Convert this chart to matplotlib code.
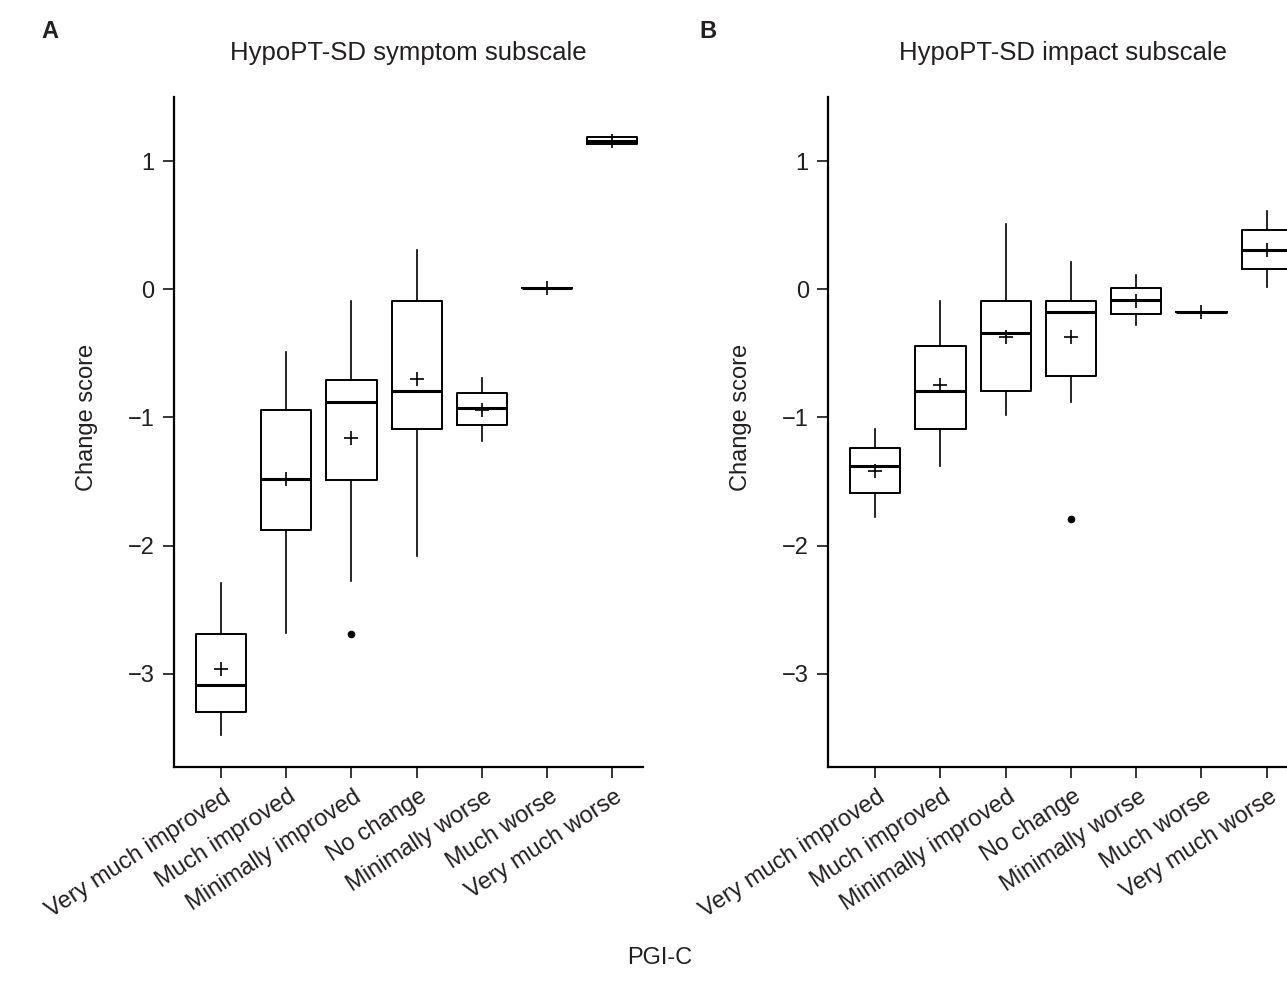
import matplotlib
matplotlib.use('Agg')
import matplotlib.pyplot as plt
from matplotlib.transforms import ScaledTranslation, blended_transform_factory

plt.rcParams['font.family'] = ['Liberation Sans', 'DejaVu Sans']

categories = ['Very much improved', 'Much improved', 'Minimally improved', 'No change',
              'Minimally worse', 'Much worse', 'Very much worse']

# panel A - symptom subscale
symptom_lo = [-3.48, -2.68, -2.28, -2.08, -1.18, 0.01, 1.13]
symptom_q1 = [-3.30, -1.88, -1.49, -1.09, -1.06, 0.01, 1.13]
symptom_med = [-3.09, -1.48, -0.88, -0.79, -0.93, 0.01, 1.16]
symptom_q3 = [-2.69, -0.94, -0.71, -0.09, -0.81, 0.01, 1.19]
symptom_hi = [-2.29, -0.49, -0.09, 0.31, -0.69, 0.01, 1.19]
symptom_mean = [-2.96, -1.48, -1.16, -0.70, -0.94, 0.01, 1.16]
symptom_fliers = [[], [], [-2.69], [], [], [], []]

# panel B - impact subscale
impact_lo = [-1.78, -1.38, -0.98, -0.88, -0.28, -0.18, 0.02]
impact_q1 = [-1.59, -1.09, -0.79, -0.68, -0.19, -0.18, 0.16]
impact_med = [-1.38, -0.79, -0.34, -0.18, -0.08, -0.18, 0.31]
impact_q3 = [-1.24, -0.44, -0.09, -0.09, 0.01, -0.18, 0.46]
impact_hi = [-1.09, -0.09, 0.51, 0.21, 0.11, -0.18, 0.61]
impact_mean = [-1.42, -0.75, -0.37, -0.37, -0.09, -0.18, 0.31]
impact_fliers = [[], [], [], [-1.79], [], [], []]

yticks = [1, 0, -1, -2, -3]

TXT = '#231f20'
W, H = 1287, 996


def px_rect(x0, x1, y0, y1):
    return [x0 / W, 1 - y1 / H, (x1 - x0) / W, (y1 - y0) / H]


def make_stats(lo, q1, med, q3, hi, mean, fliers):
    stats = []
    for i in range(len(med)):
        stats.append(dict(whislo=lo[i], q1=q1[i], med=med[i], q3=q3[i], whishi=hi[i],
                          mean=mean[i], fliers=fliers[i]))
    return stats


def draw_panel(fig, ax, stats, title):
    pos = list(range(1, len(categories) + 1))
    ax.bxp(stats, positions=pos, widths=0.77,
           showcaps=False, showmeans=True, patch_artist=False,
           boxprops=dict(color='black', linewidth=1.4),
           whiskerprops=dict(color='black', linewidth=1.2),
           medianprops=dict(color='black', linewidth=2.2),
           meanprops=dict(marker='+', markersize=10, markeredgecolor='black',
                          markeredgewidth=1.2, linestyle='none'),
           flierprops=dict(marker='o', markersize=4.5, markerfacecolor='black',
                           markeredgecolor='black', linestyle='none'))
    ax.set_xlim(0.28, 7.47)
    ax.set_ylim(-3.73, 1.503)
    ax.set_yticks(yticks)
    ax.set_xticks(pos)
    ax.tick_params(axis='x', labelbottom=False)

    # rotated category labels, sitting a bit right of each tick like the original
    trans = blended_transform_factory(ax.transData, ax.transAxes) + \
        ScaledTranslation(0.08, -0.277, fig.dpi_scale_trans)
    for x, lab in zip(pos, categories):
        ax.text(x, 0, lab, transform=trans, rotation=33, ha='right', va='center',
                rotation_mode='anchor', fontsize=17, color=TXT, clip_on=False)

    for s in ['top', 'right']:
        ax.spines[s].set_visible(False)
    for s in ['left', 'bottom']:
        ax.spines[s].set_linewidth(1.6)
    ax.tick_params(axis='both', length=8, width=1.1, labelsize=17, labelcolor=TXT, pad=6)
    ax.set_ylabel('Change score', fontsize=17, color=TXT)
    ax.yaxis.set_label_coords(-0.163, 0.522)
    ax.text(0.5, 1.065, title, transform=ax.transAxes, ha='center', va='center',
            fontsize=18.5, color=TXT)


fig = plt.figure(figsize=(12.87, 9.96), dpi=100)
ax_a = fig.add_axes(px_rect(174, 643, 96.7, 767.3))
ax_b = fig.add_axes(px_rect(828.3, 1297.3, 96.7, 767.3))

draw_panel(fig, ax_a, make_stats(symptom_lo, symptom_q1, symptom_med, symptom_q3, symptom_hi,
                                 symptom_mean, symptom_fliers), 'HypoPT-SD symptom subscale')
draw_panel(fig, ax_b, make_stats(impact_lo, impact_q1, impact_med, impact_q3, impact_hi,
                                 impact_mean, impact_fliers), 'HypoPT-SD impact subscale')

fig.text(50 / W, 1 - 32 / H, 'A', fontsize=17, fontweight='bold', color=TXT,
         ha='center', va='center')
fig.text(708 / W, 1 - 32 / H, 'B', fontsize=17, fontweight='bold', color=TXT,
         ha='center', va='center')
fig.text(660 / W, 1 - 958 / H, 'PGI-C', fontsize=17, color=TXT, ha='center', va='center')

fig.savefig('out.png', dpi=100)
